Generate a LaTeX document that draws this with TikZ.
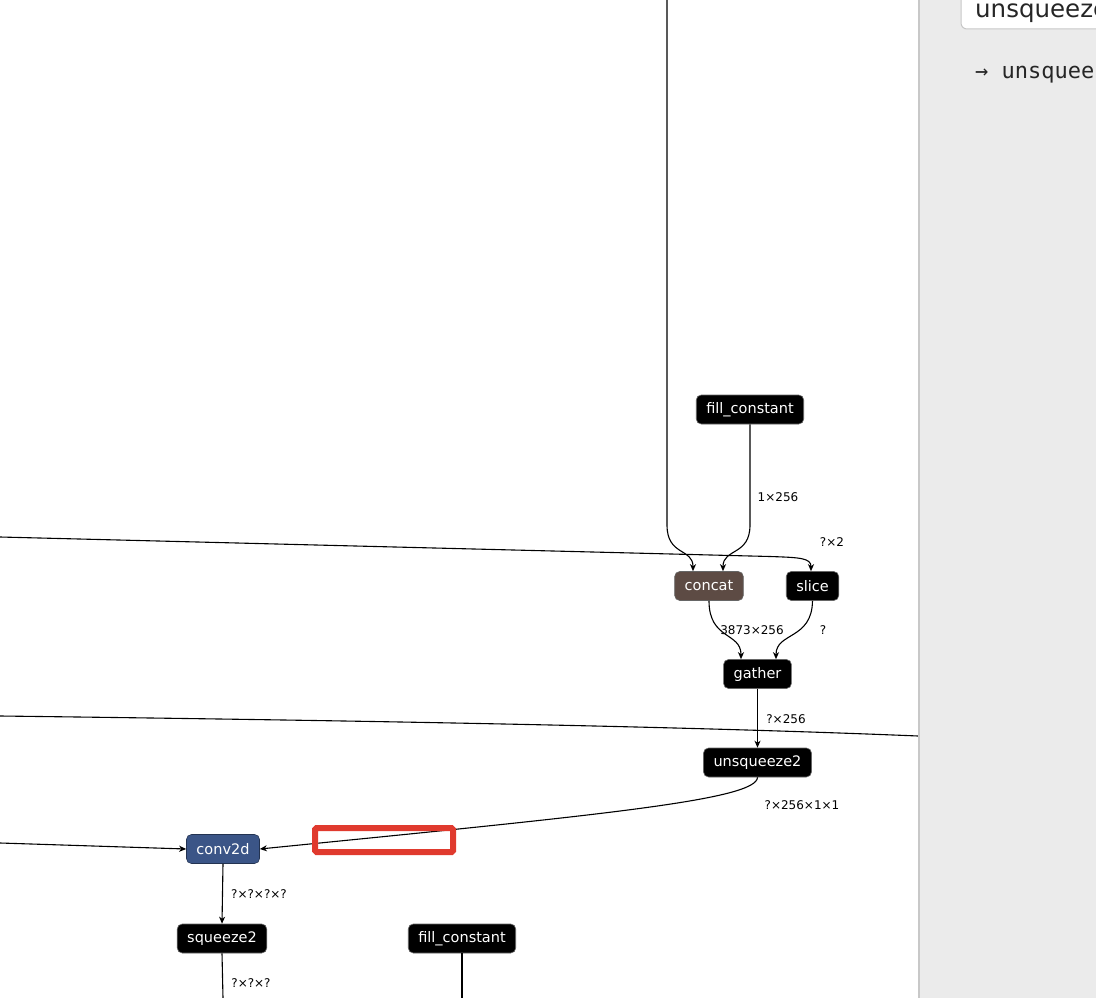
\documentclass[tikz,border=0pt]{standalone}
\usepackage{fontspec}
\newfontfamily\dvsans{DejaVu Sans}
\newfontfamily\dvmono{DejaVu Sans Mono}
\usetikzlibrary{arrows.meta,calc}
\definecolor{opblack}{RGB}{0,0,0}
\definecolor{concatc}{RGB}{93,75,68}
\definecolor{convc}{RGB}{59,85,135}
\definecolor{panelc}{RGB}{235,235,235}
\definecolor{panelline}{RGB}{200,200,200}
\definecolor{redbox}{RGB}{224,58,46}
\tikzset{
  x=1pt, y=-1pt,
  opnode/.style={rectangle, rounded corners=5pt, draw=black!60, line width=0.6pt, fill=opblack,
    text=white, font=\dvsans\fontsize{14.5}{16}\selectfont, minimum height=29pt,
    inner xsep=10pt, inner ysep=0pt},
  lbl/.style={font=\dvsans\fontsize{12}{14}\selectfont, text=black, inner sep=0pt},
  edge/.style={line width=1.1pt, draw=black, -{Stealth[length=7pt,width=6pt,inset=2pt]}},
  plain/.style={line width=1.1pt, draw=black},
}
\begin{document}
\begin{tikzpicture}
\useasboundingbox (0,0) rectangle (1096,998);
\begin{scope}
\clip (0,0) rectangle (1096,998);
% nodes
\node[opnode] (fc1) at (750,409.5) {fill\_constant};
\node[opnode, fill=concatc] (concat) at (709,586) {concat};
\node[opnode] (slice) at (812.5,586) {slice};
\node[opnode] (gather) at (757.5,674) {gather};
\node[opnode] (unsq) at (757.5,762.5) {unsqueeze2};
\node[opnode, fill=convc, draw=convc!60!black] (conv) at (223,849) {conv2d};
\node[opnode] (sq) at (222,938.5) {squeeze2};
\node[opnode] (fc2) at (462,938.5) {fill\_constant};
% free ends
\coordinate (topin) at (667,0);
\coordinate (leftA) at (0,537);
\coordinate (leftB) at (0,716);
\coordinate (rightB) at (918,736);
\coordinate (leftC) at (0,843);
\coordinate (botSq) at (223,998);
\coordinate (botFc) at (462,998);
% edges
\draw[edge] (topin) -- (667,525) .. controls (667,556) and (693,548) .. ($(concat.north)+(-16,0)$);
\draw[edge] (fc1.south) -- (750,525) .. controls (750,556) and (723,548) .. ($(concat.north)+(14,0)$);
\draw[edge] (leftA) -- (770,556.5) .. controls (800,557.5) and (811,558) .. ($(slice.north)+(-1.5,0)$);
\draw[edge] (concat.south) .. controls (709,640) and (741,632) .. ($(gather.north)+(-16.5,0)$);
\draw[edge] (slice.south) .. controls (812,640) and (776,632) .. ($(gather.north)+(18.5,0)$);
\draw[edge] (gather.south) -- (unsq.north);
\draw[plain] (leftB) .. controls (400,721) and (700,727) .. (rightB);
\draw[edge] (unsq.south) .. controls (757,800) and (600,815) .. (conv.east);
\draw[edge] (leftC) -- (conv.west);
\draw[edge] (conv.south) -- (sq.north);
\draw[plain] (sq.south) -- (botSq);
\draw[plain] (fc2.south) -- (botFc);
% labels
\node[lbl] (l1) at (778,497) {1×256};
\node[lbl] (l2) at (832,542) {?×2};
\node[lbl] (l3) at (752,630) {3873×256};
\node[lbl] (l4) at (823,630) {?};
\node[lbl] (l5) at (786,719) {?×256};
\node[lbl] (l6) at (802,805) {?×256×1×1};
\node[lbl] (l7) at (259,894) {?×?×?×?};
\node[lbl] (l8) at (251,983) {?×?×?};
% highlight box
\draw[draw=redbox, line width=6pt, rounded corners=1.5pt] (315,828) rectangle (453,852);
% right panel
\fill[panelc] (918,0) rectangle (1096,998);
\draw[panelline, line width=1.5pt] (918.75,0) -- (918.75,998);
\draw[fill=white, draw=black!22, line width=1pt, rounded corners=6pt] (961,-12) rectangle (1120,29);
\node[anchor=base west, inner sep=0pt, font=\dvsans\fontsize{24.5}{26}\selectfont, text=black!85] (ptitle) at (975,18) {unsqueeze2};
\node[anchor=base west, inner sep=0pt, font=\dvmono\fontsize{22}{24}\selectfont, text=black!85] (pout) at (975,79) {→ unsqueeze2};
\end{scope}
\end{tikzpicture}
\end{document}
